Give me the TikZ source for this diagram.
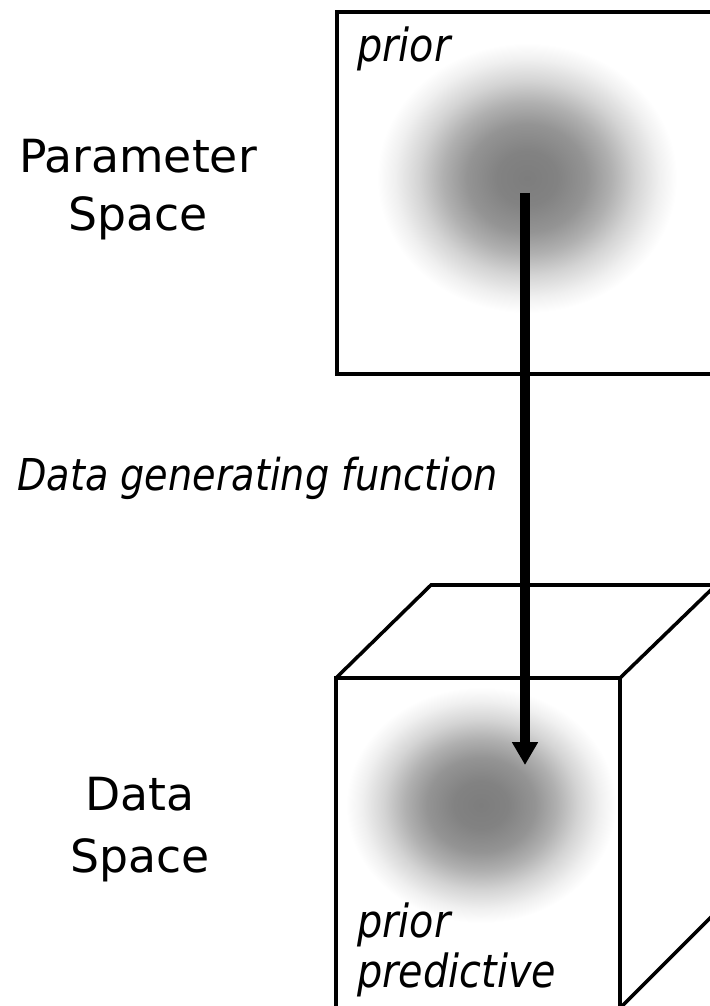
\documentclass[tikz,border=0pt]{standalone}
\usepackage{fontspec}
\setmainfont{DejaVu Sans}
\newfontfamily\slantfont[FakeStretch=0.87]{DejaVu Sans}
\usetikzlibrary{positioning, arrows.meta}

% soft grey blob, dark in the middle and fading to white
\pgfdeclareradialshading{blob}{\pgfpoint{0bp}{0bp}}{%
    color(0bp)=(black!51);
    color(5bp)=(black!49);
    color(10bp)=(black!42);
    color(14bp)=(black!31);
    color(18bp)=(black!17);
    color(22bp)=(black!6);
    color(25bp)=(white);
    color(50bp)=(white)}

\tikzset{
    space label/.style={align=center, inner sep=0pt},
    note label/.style={align=left, inner sep=0pt},
    frame/.style={draw, line width=2pt, line join=miter},
    density/.style={shading=blob},
    flow/.style={-{Triangle[width=14pt, length=13pt]}, line width=5.5pt}
}

\begin{document}
\begin{tikzpicture}[x=0.02cm, y=-0.02cm]
    \useasboundingbox (0,0) rectangle (709,1006);

    % densities
    \shade[density] (527,178) ellipse (150 and 135);
    \shade[density] (481,805) ellipse (135 and 118);

    % parameter space: a flat square
    \node[
        frame,
        rectangle,
        anchor=north west,
        minimum width=387*0.02cm,
        minimum height=362*0.02cm,
        inner sep=0pt
    ] (param box) at (335,10) {};

    % data space: a cube
    \coordinate (front nw) at (336,678);
    \coordinate (front ne) at (620,678);
    \coordinate (back nw) at (431,585);
    \coordinate (back ne) at (716,585);
    \draw[frame] (front nw) rectangle (620,1008);
    \draw[frame] (front nw) -- (back nw) -- (back ne) -- (front ne);
    \draw[frame] (back ne) -- (716,912) -- (620,1008);

    % labels
    \node[space label, anchor=south,
        font=\fontsize{26}{33}\selectfont] (param label) at (138,240) {Parameter\\Space};
    \node[space label, anchor=south,
        font=\fontsize{26}{35}\selectfont] (data label) at (140,882) {Data\\Space};
    \node[note label, anchor=base west,
        font=\slantfont\itshape\fontsize{26}{29}\selectfont] (prior label) at (357,62) {prior};
    \node[note label, anchor=south west,
        font=\slantfont\itshape\fontsize{26}{28.5}\selectfont] (pred label) at (357,997) {prior\\predictive};
    \node[note label, anchor=base west,
        font=\slantfont\itshape\fontsize{25}{29}\selectfont] (gen label) at (17,490) {Data generating function};

    % data generating function
    \coordinate (prior mode) at (525,193);
    \coordinate (pred mode) at (525,765);
    \draw[flow] (prior mode) -- (pred mode);
\end{tikzpicture}
\end{document}
